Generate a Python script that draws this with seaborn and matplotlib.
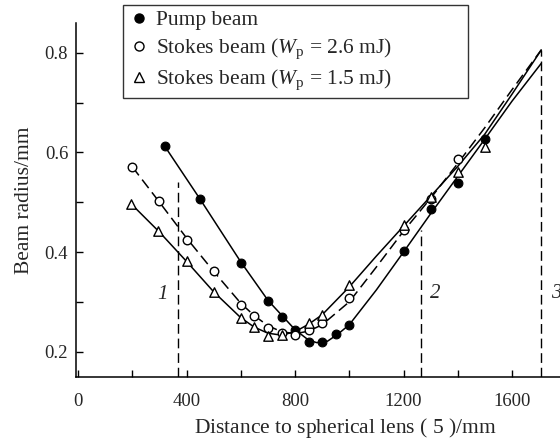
import numpy as np
import pandas as pd
import seaborn as sns
import matplotlib.pyplot as plt
from matplotlib.lines import Line2D

# measured beam radii (mm) vs distance to lens (mm)
pump_x = [320, 450, 600, 700, 750, 800, 850, 900, 950, 1000, 1200, 1300, 1400, 1500]
pump_r = [0.612, 0.506, 0.378, 0.302, 0.270, 0.244, 0.220, 0.219, 0.236, 0.254, 0.402, 0.486, 0.538, 0.627]

st26_x = [200, 300, 400, 500, 600, 650, 700, 750, 800, 850, 900, 1000, 1200, 1300, 1400]
st26_r = [0.571, 0.502, 0.425, 0.361, 0.293, 0.272, 0.248, 0.238, 0.234, 0.243, 0.257, 0.307, 0.445, 0.506, 0.587]

st15_x = [195, 295, 400, 500, 600, 650, 700, 750, 850, 900, 1000, 1200, 1300, 1400, 1500]
st15_r = [0.497, 0.442, 0.382, 0.319, 0.268, 0.250, 0.232, 0.233, 0.257, 0.274, 0.333, 0.454, 0.511, 0.561, 0.610]

# fitted curves as drawn in the figure
pump_fit_x = [320, 450, 600, 700, 800, 850, 880, 920, 960, 1000, 1100, 1200, 1300, 1400, 1500, 1600, 1708]
pump_fit_r = [0.612, 0.506, 0.380, 0.303, 0.244, 0.223, 0.218, 0.221, 0.236, 0.254, 0.324, 0.400, 0.477, 0.552, 0.627, 0.703, 0.779]

st26_fit_x = [200, 300, 400, 500, 600, 650, 700, 750, 800, 850, 900, 1000, 1100, 1200, 1300, 1400, 1500, 1600, 1708]
st26_fit_r = [0.571, 0.500, 0.428, 0.361, 0.297, 0.272, 0.252, 0.240, 0.236, 0.241, 0.254, 0.300, 0.370, 0.442, 0.508, 0.578, 0.650, 0.726, 0.806]

st15_fit_x = [195, 300, 400, 500, 600, 650, 700, 750, 800, 850, 900, 1000, 1100, 1200, 1300, 1400, 1500, 1600, 1708]
st15_fit_r = [0.497, 0.440, 0.381, 0.320, 0.268, 0.249, 0.237, 0.233, 0.240, 0.255, 0.274, 0.330, 0.392, 0.452, 0.512, 0.572, 0.637, 0.717, 0.806]

# positions of elements 1, 2, 3 and how high their marker lines go
elem_x = [370, 1265, 1708]
elem_top = [0.541, 0.444, 0.806]
elem_labels = ['1', '2', '3']
elem_label_x = [312, 1316, 1765]
elem_label_y = [0.315, 0.317, 0.317]

labels = ['Pump beam',
          r'Stokes beam ($W_\mathrm{p}$ = 2.6 mJ)',
          r'Stokes beam ($W_\mathrm{p}$ = 1.5 mJ)']

sns.set_style("ticks")
plt.rcParams['font.family'] = ['Liberation Serif', 'DejaVu Serif']
plt.rcParams['mathtext.fontset'] = 'custom'
plt.rcParams['mathtext.rm'] = 'Liberation Serif'
plt.rcParams['mathtext.it'] = 'Liberation Serif:italic'

fig = plt.figure(figsize=(5.6, 4.41), dpi=100)
ax = fig.add_axes([76.5 / 560, 1 - 376.5 / 441, 1 - 76.5 / 560, (376.5 - 23) / 441])

dash = (0, (7, 3.5))
sns.lineplot(x=pump_fit_x, y=pump_fit_r, ax=ax, color='black', lw=1.1, sort=False)
sns.lineplot(x=st26_fit_x, y=st26_fit_r, ax=ax, color='black', lw=1.1, sort=False, linestyle=dash)
sns.lineplot(x=st15_fit_x, y=st15_fit_r, ax=ax, color='black', lw=1.1, sort=False)

ax.vlines(elem_x, 0.15, elem_top, colors='black', linestyles=dash, lw=1.0)
for xx, yy, t in zip(elem_label_x, elem_label_y, elem_labels):
    ax.text(xx, yy, t, fontsize=15, style='italic', ha='center', va='center')

sns.scatterplot(x=pump_x, y=pump_r, ax=ax, marker='o', s=40, color='black',
                edgecolor='black', linewidth=0.8, zorder=5)
sns.scatterplot(x=st26_x, y=st26_r, ax=ax, marker='o', s=38, facecolor='white',
                edgecolor='black', linewidth=1.0, zorder=5)
sns.scatterplot(x=st15_x, y=st15_r, ax=ax, marker='^', s=46, facecolor='white',
                edgecolor='black', linewidth=1.0, zorder=5)

ax.set_xlim(-6, 1777)
ax.set_ylim(0.15, 0.86)
ax.set_xticks(np.arange(0, 1601, 400))
ax.set_xticks(np.arange(200, 1601, 200), minor=True)
ax.set_yticks([0.2, 0.4, 0.6, 0.8])
ax.set_yticks([0.3, 0.5, 0.7], minor=True)
ax.set_yticklabels(['0.2', '0.4', '0.6', '0.8'])
ax.tick_params(which='both', direction='in', length=5, width=1, labelsize=13.5, color='black')
ax.tick_params(axis='x', pad=12)
ax.tick_params(axis='y', pad=6)
for s in ['left', 'bottom']:
    ax.spines[s].set_linewidth(1.1)
    ax.spines[s].set_color('black')
sns.despine(ax=ax)

ax.set_xlabel(r'Distance to spherical lens ( $\mathit{5}$ )/mm', fontsize=15.5)
ax.xaxis.set_label_coords(0.555, -0.113)
ax.set_ylabel('Beam radius/mm', fontsize=15.5, labelpad=8)

handles = [
    Line2D([], [], marker='o', color='black', linestyle='none', markersize=6.5),
    Line2D([], [], marker='o', markerfacecolor='white', markeredgecolor='black', linestyle='none', markersize=6.5),
    Line2D([], [], marker='^', markerfacecolor='white', markeredgecolor='black', linestyle='none', markersize=7),
]
leg = fig.legend(handles, labels, loc='upper left', bbox_to_anchor=(123 / 560, 1 - 5 / 441, 345 / 560, 0),
                 mode='expand', fontsize=15.5, frameon=True, fancybox=False, handlelength=1.0,
                 handletextpad=0.3, labelspacing=0.3, borderpad=0.25, borderaxespad=0)
leg.get_frame().set_edgecolor('black')
leg.get_frame().set_linewidth(1.0)

fig.savefig('out.png', dpi=100)
